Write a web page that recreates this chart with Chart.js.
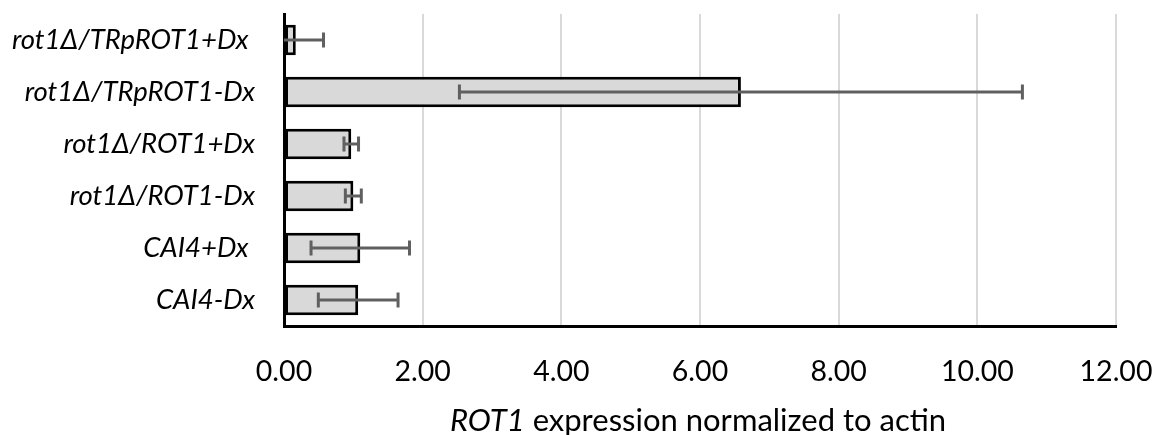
<!DOCTYPE html>
<html>
<head>
<meta charset="utf-8">
<script src="https://cdn.jsdelivr.net/npm/chart.js@4/dist/chart.umd.min.js"></script>
<style>
  html, body { margin: 0; padding: 0; background: #fff; }
  #wrap { width: 1156px; height: 435px; }
</style>
</head>
<body>
<div id="wrap"><canvas id="rotChart" width="1156" height="435"></canvas></div>
<script>
// strains, top to bottom
const strains = ['rot1\u0394/TRpROT1+Dx ', 'rot1\u0394/TRpROT1-Dx', 'rot1\u0394/ROT1+Dx', 'rot1\u0394/ROT1-Dx', 'CAI4+Dx ', 'CAI4-Dx'];
// ROT1 expression normalized to actin
const expression = [0.17, 6.59, 0.97, 1.00, 1.10, 1.07];
// error bar half-widths
const errors = [0.40, 4.06, 0.105, 0.115, 0.71, 0.575];
const xTicks = [0, 2, 4, 6, 8, 10, 12];

// Error bars drawn on top of the bars
const errorBars = {
    id: 'errorBars',
    afterDatasetsDraw(chart) {
        const ctx = chart.ctx;
        const x = chart.scales.x, y = chart.scales.y;
        const area = chart.chartArea;
        ctx.save();
        ctx.beginPath();
        ctx.rect(area.left, 0, area.right - area.left, chart.height);
        ctx.clip();
        ctx.strokeStyle = '#606060';
        ctx.lineWidth = 3;
        expression.forEach((v, i) => {
            const cy = y.getPixelForValue(i);
            const lo = x.getPixelForValue(v - errors[i]);
            const hi = x.getPixelForValue(v + errors[i]);
            ctx.beginPath();
            ctx.moveTo(lo, cy); ctx.lineTo(hi, cy);
            ctx.moveTo(lo, cy - 7.5); ctx.lineTo(lo, cy + 7.5);
            ctx.moveTo(hi, cy - 7.5); ctx.lineTo(hi, cy + 7.5);
            ctx.stroke();
        });
        ctx.restore();
    }
};

// Axis title with italic gene name
const axisTitle = {
    id: 'axisTitle',
    afterDraw(chart) {
        const ctx = chart.ctx;
        const area = chart.chartArea;
        const gene = 'ROT1', rest = ' expression normalized to actin';
        ctx.save();
        ctx.fillStyle = '#000';
        ctx.textBaseline = 'alphabetic';
        ctx.font = 'italic 31px Lato';
        const w1 = ctx.measureText(gene).width;
        ctx.font = '31px Lato';
        const w2 = ctx.measureText(rest).width;
        let left = (area.left + area.right) / 2 - (w1 + w2) / 2 - 2;
        ctx.font = 'italic 31px Lato';
        ctx.fillText(gene, left, 431);
        ctx.font = '31px Lato';
        ctx.fillText(rest, left + w1, 431);
        ctx.restore();
    }
};

new Chart(document.getElementById('rotChart'), {
    type: 'bar',
    data: {
        labels: strains,
        datasets: [{
            data: expression,
            backgroundColor: '#d9d9d9',
            borderColor: '#000',
            borderWidth: 3,
            borderSkipped: false,
            categoryPercentage: 1,
            barPercentage: 0.59
        }]
    },
    options: {
        indexAxis: 'y',
        responsive: false,
        animation: false,
        layout: { padding: { top: 14, right: 40, left: 0, bottom: 0 } },
        plugins: { legend: { display: false }, tooltip: { enabled: false } },
        scales: {
            x: {
                min: 0, max: 12,
                afterFit: s => { s.height = 109; s.paddingLeft = 0; s.paddingRight = 0; },
                afterBuildTicks: s => { s.ticks = xTicks.map(v => ({ value: v })); },
                grid: { color: '#d9d9d9', lineWidth: 2, drawTicks: false },
                border: { color: '#000', width: 3 },
                ticks: {
                    padding: 29,
                    color: '#000',
                    font: { family: 'Lato', size: 28.5 },
                    callback: v => Number(v).toFixed(2)
                }
            },
            y: {
                afterFit: s => { s.width = 284; s.paddingTop = 0; s.paddingBottom = 0; },
                grid: { display: false, drawTicks: false },
                border: { color: '#000', width: 3 },
                ticks: {
                    padding: 29,
                    color: '#000',
                    font: { family: 'Lato', size: 27.5, style: 'italic' }
                }
            }
        }
    },
    plugins: [errorBars, axisTitle]
});
</script>
</body>
</html>
